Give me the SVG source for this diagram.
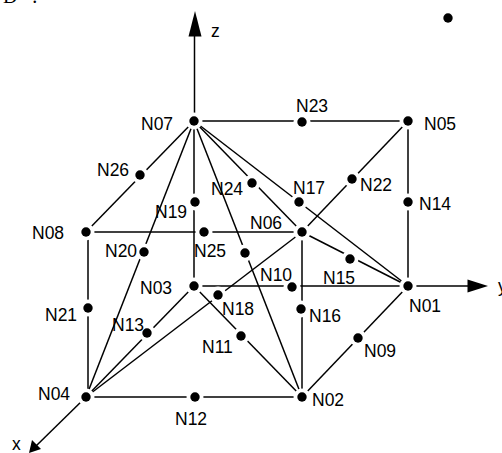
<svg xmlns="http://www.w3.org/2000/svg" width="502" height="453" viewBox="0 0 502 453">
<defs>
<style>
text{font-family:"Liberation Sans",Arial,sans-serif;font-size:17.5px;fill:#000}
.c line{stroke:#000;stroke-width:1.5;fill:none}
.h{fill:#fff}
.d{fill:#000}
</style>
<g id="n"><circle class="h" r="8.5"/><circle class="d" r="4.7"/></g>
</defs>
<rect width="502" height="453" fill="#fff"/>
<text x="3" y="3" style="font-family:'Liberation Serif',serif;font-size:20px">D<tspan x="27"> :</tspan></text>
<g id="connectors" class="c">
<line x1="194.500" y1="121" x2="194.500" y2="30"/>
<line x1="408" y1="286" x2="472" y2="286"/>
<line x1="86" y1="397" x2="36" y2="446"/>
<line x1="194" y1="121" x2="408" y2="121"/>
<line x1="194" y1="121" x2="86" y2="232"/>
<line x1="194" y1="121" x2="86" y2="397"/>
<line x1="194" y1="121" x2="194" y2="286"/>
<line x1="194" y1="121" x2="302" y2="397"/>
<line x1="194" y1="121" x2="302" y2="232"/>
<line x1="194" y1="121" x2="408" y2="286"/>
<line x1="408" y1="121" x2="408" y2="286"/>
<line x1="408" y1="121" x2="302" y2="232"/>
<line x1="86" y1="232" x2="302" y2="232"/>
<line x1="88" y1="232" x2="88" y2="397"/>
<line x1="86" y1="397" x2="302" y2="397"/>
<line x1="86" y1="397" x2="194" y2="286"/>
<line x1="86" y1="397" x2="302" y2="232"/>
<line x1="194" y1="286" x2="408" y2="286"/>
<line x1="194" y1="286" x2="302" y2="397"/>
<line x1="302" y1="232" x2="408" y2="286"/>
<line x1="302" y1="232" x2="302" y2="397"/>
<line x1="302" y1="397" x2="408" y2="286"/>
<polygon points="195,11 201.5,36.500 188.500,36.500" fill="#000"/>
<polygon points="488,286 467.500,279.500 467.500,292.500" fill="#000"/>
<polygon points="29,453 41,449 32,440" fill="#000"/>
</g>
<g id="N01"><use href="#n" x="408" y="286"/><text x="409" y="312">N01</text></g>
<g id="N02"><use href="#n" x="302" y="397"/><text x="312" y="406">N02</text></g>
<g id="N03"><use href="#n" x="194" y="286"/><text x="140" y="294">N03</text></g>
<g id="N04"><use href="#n" x="86" y="397"/><text x="38" y="400">N04</text></g>
<g id="N05"><use href="#n" x="408" y="121"/><text x="424" y="130">N05</text></g>
<g id="N06"><use href="#n" x="302" y="232"/><text x="250" y="229">N06</text></g>
<g id="N07"><use href="#n" x="194" y="121"/><text x="141" y="130">N07</text></g>
<g id="N08"><use href="#n" x="86" y="232"/><text x="32" y="239">N08</text></g>
<g id="N09"><use href="#n" x="358" y="338"/><text x="364" y="357">N09</text></g>
<g id="N10"><use href="#n" x="292" y="287"/><text x="260" y="281">N10</text></g>
<g id="N11"><use href="#n" x="241" y="336"/><text x="202" y="353">N11</text></g>
<g id="N12"><use href="#n" x="195" y="397"/><text x="175" y="425">N12</text></g>
<g id="N13"><use href="#n" x="147" y="333"/><text x="112" y="331">N13</text></g>
<g id="N14"><use href="#n" x="408" y="202"/><text x="419" y="210">N14</text></g>
<g id="N15"><use href="#n" x="350" y="259"/><text x="323" y="284">N15</text></g>
<g id="N16"><use href="#n" x="301" y="309"/><text x="309" y="322">N16</text></g>
<g id="N17"><use href="#n" x="299" y="202"/><text x="293" y="194">N17</text></g>
<g id="N18"><use href="#n" x="218" y="295"/><text x="222" y="315">N18</text></g>
<g id="N19"><use href="#n" x="195" y="202"/><text x="155" y="218">N19</text></g>
<g id="N20"><use href="#n" x="144" y="252"/><text x="105" y="257">N20</text></g>
<g id="N21"><use href="#n" x="88" y="308"/><text x="45" y="321">N21</text></g>
<g id="N22"><use href="#n" x="352" y="179"/><text x="360" y="191">N22</text></g>
<g id="N23"><use href="#n" x="302" y="122"/><text x="296" y="112">N23</text></g>
<g id="N24"><use href="#n" x="252" y="183"/><text x="211" y="195">N24</text></g>
<g id="N25"><use href="#n" x="204" y="232"/><text x="194" y="257">N25</text></g>
<g id="N26"><use href="#n" x="140" y="175"/><text x="97" y="176">N26</text></g>
<g id="N27"><use href="#n" x="245" y="253"/></g>
<g id="N28"><use href="#n" x="448" y="18"/></g>
<text x="211" y="37">z</text>
<text x="12" y="450">x</text>
<text x="498" y="292">y</text>
</svg>
